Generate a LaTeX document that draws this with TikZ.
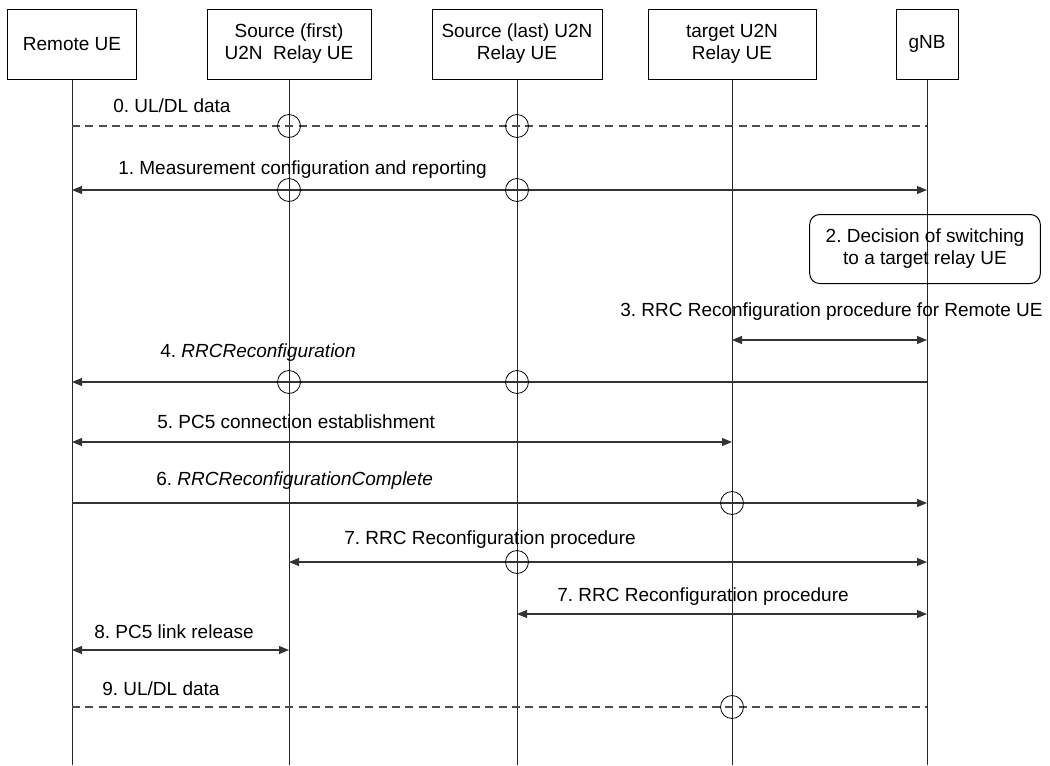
\documentclass[tikz,border=0pt]{standalone}
\usepackage{fontspec}
\setmainfont{Liberation Sans}
\usetikzlibrary{arrows.meta}
\frenchspacing
\begin{document}
\frenchspacing
\begin{tikzpicture}[x=0.75pt,y=-0.75pt,
  every node/.style={font=\fontsize{14.25}{16.5}\selectfont},
  entity/.style={draw=black, line width=0.75pt, minimum height=52.5pt, align=center, inner sep=0pt},
  life/.style={draw=black!85, line width=0.6pt},
  msg/.style={draw=black!80, line width=0.8pt},
  dmsg/.style={draw=black!70, line width=0.8pt, dash pattern=on 6pt off 4pt},
  >={Triangle[length=7.5pt,width=6pt]},
  lbl/.style={anchor=west, inner sep=0pt, text height=1.5ex, text depth=.25ex},
  crossing/.style={draw=black, circle, line width=0.6pt, minimum size=17.25pt, inner sep=0pt},
  note/.style={draw=black, line width=0.75pt, rounded corners=7.5pt, align=center, minimum width=173pt, minimum height=51.75pt, inner sep=0pt}
]
\useasboundingbox (0,0) rectangle (1050,765);
% entities
\node[entity, minimum width=96.75pt] (ru) at (72,44) {Remote UE};
\node[entity, minimum width=123pt] (sf) at (289,44) {Source (first)\\U2N\ \ Relay UE};
\node[entity, minimum width=127.5pt] (sl) at (517,44) {Source (last) U2N\\Relay UE};
\node[entity, minimum width=126pt] (tg) at (732,44) {target U2N\\Relay UE};
\node[entity, minimum width=46.5pt] (gnb) at (927,44) {gNB};
% bottom
\coordinate (bot) at (0,765);
\foreach \n in {ru,sf,sl,tg,gnb}{\draw[life] (\n.south) -- (\n.south |- bot);}
% rows
\coordinate (r0) at (0,126);
\coordinate (r1) at (0,190);
\coordinate (r3) at (0,340);
\coordinate (r4) at (0,382);
\coordinate (r5) at (0,442);
\coordinate (r6) at (0,503);
\coordinate (r7) at (0,562);
\coordinate (r7b) at (0,614);
\coordinate (r8) at (0,650);
\coordinate (r9) at (0,707);
% 0
\draw[dmsg] (ru |- r0) -- (gnb |- r0);
\node[lbl] (t0) at (113,108) {0. UL/DL data};
\node[crossing] (c0a) at (sf |- r0) {};
\node[crossing] (c0b) at (sl |- r0) {};
% 1
\draw[msg,<->] (ru |- r1) -- (gnb |- r1);
\node[lbl] (t1) at (118,170) {1. Measurement configuration and reporting};
\node[crossing] (c1a) at (sf |- r1) {};
\node[crossing] (c1b) at (sl |- r1) {};
% 2
\node[note] (n2) at (925,249) {2. Decision of switching\\to a target relay UE};
% 3
\draw[msg,<->] (tg |- r3) -- (gnb |- r3);
\node[lbl] (t3) at (620,312) {3. RRC Reconfiguration procedure for Remote UE};
% 4
\draw[msg,->] (gnb |- r4) -- (ru |- r4);
\node[lbl] (t4) at (160,353) {4. \textit{RRCReconfiguration}};
\node[crossing] (c4a) at (sf |- r4) {};
\node[crossing] (c4b) at (sl |- r4) {};
% 5
\draw[msg,<->] (ru |- r5) -- (tg |- r5);
\node[lbl] (t5) at (157,424) {5. PC5 connection establishment};
% 6
\draw[msg,->] (ru |- r6) -- (gnb |- r6);
\node[lbl] (t6) at (156,481) {6. \textit{RRCReconfigurationComplete}};
\node[crossing] (c6) at (tg |- r6) {};
% 7
\draw[msg,<->] (sf |- r7) -- (gnb |- r7);
\node[lbl] (t7) at (344,540) {7. RRC Reconfiguration procedure};
\node[crossing] (c7) at (sl |- r7) {};
% 7b
\draw[msg,<->] (sl |- r7b) -- (gnb |- r7b);
\node[lbl] (t7b) at (557,597) {7. RRC Reconfiguration procedure};
% 8
\draw[msg,<->] (ru |- r8) -- (sf |- r8);
\node[lbl] (t8) at (94,634) {8. PC5 link release};
% 9
\draw[dmsg] (ru |- r9) -- (gnb |- r9);
\node[lbl] (t9) at (102,691) {9. UL/DL data};
\node[crossing] (c9) at (tg |- r9) {};
\end{tikzpicture}
\end{document}
